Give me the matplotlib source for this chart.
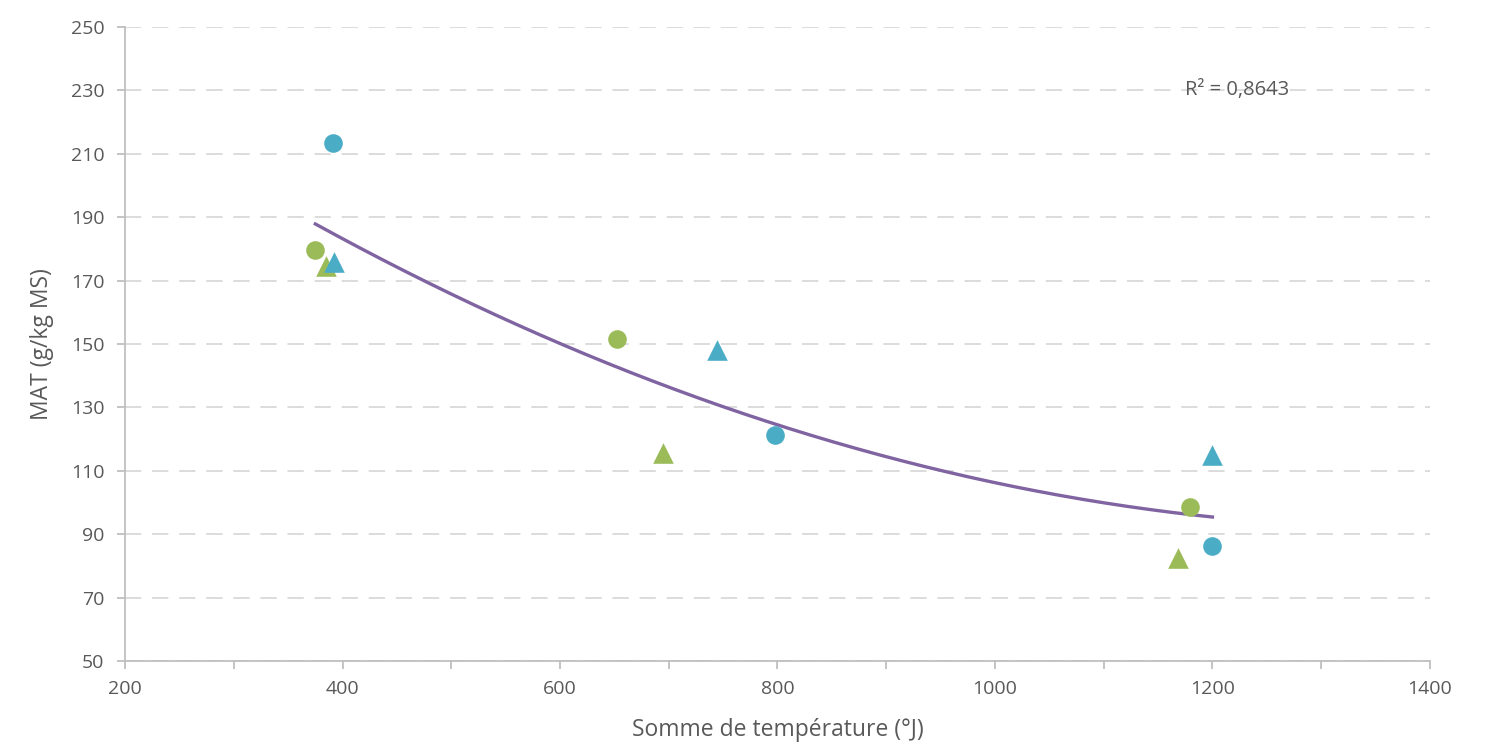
import numpy as np
import matplotlib.pyplot as plt
from matplotlib.ticker import MultipleLocator

plt.rcParams['font.family'] = ['Open Sans', 'DejaVu Sans']

# points
bleu_rond_x = [391, 798, 1200]
bleu_rond_y = [213.5, 121.3, 86.3]
vert_rond_x = [375, 652, 1179]
vert_rond_y = [179.7, 151.6, 98.6]
bleu_tri_x = [392, 744, 1200]
bleu_tri_y = [176.0, 148.0, 115.0]
vert_tri_x = [385, 695, 1168]
vert_tri_y = [174.5, 115.6, 82.6]
r2_label = "R² = 0,8643"

bleu = "#4BACC6"
vert = "#9BBB59"
violet = "#8064A2"
gris = "#595959"

fig = plt.figure(figsize=(14.92, 7.46), dpi=100)
ax = fig.add_axes([0.0838, 0.1139, 0.8746, 0.8499])

# courbe de tendance polynomiale (ordre 2) sur tous les points
all_x = np.array(bleu_rond_x + vert_rond_x + bleu_tri_x + vert_tri_x, dtype=float)
all_y = np.array(bleu_rond_y + vert_rond_y + bleu_tri_y + vert_tri_y, dtype=float)
coef = np.polyfit(all_x, all_y, 2)
xs = np.linspace(all_x.min(), all_x.max(), 200)
ax.plot(xs, np.polyval(coef, xs), color=violet, lw=2.4, zorder=2)

ax.scatter(bleu_rond_x, bleu_rond_y, s=180, marker="o", color=bleu, zorder=3, linewidths=0)
ax.scatter(vert_rond_x, vert_rond_y, s=180, marker="o", color=vert, zorder=3, linewidths=0)
ax.scatter(vert_tri_x, vert_tri_y, s=220, marker="^", color=vert, zorder=3, linewidths=0)
ax.scatter(bleu_tri_x, bleu_tri_y, s=220, marker="^", color=bleu, zorder=3, linewidths=0)

ax.text(1223, 230, r2_label, ha="center", va="center", fontsize=14.5, color=gris)

ax.set_xlim(200, 1400)
ax.set_ylim(50, 250)
ax.xaxis.set_major_locator(MultipleLocator(200))
ax.xaxis.set_minor_locator(MultipleLocator(100))
ax.set_yticks(np.arange(50, 251, 20))
ax.grid(axis="y", color="#D9D9D9", lw=1.3, ls=(0, (9, 6)))
ax.set_axisbelow(True)

for s in ["top", "right"]:
    ax.spines[s].set_visible(False)
for s in ["left", "bottom"]:
    ax.spines[s].set_color("#BFBFBF")
    ax.spines[s].set_linewidth(1.3)
ax.tick_params(which="both", length=6, color="#BFBFBF", width=1.3,
               labelsize=14, labelcolor=gris)
ax.tick_params(axis="x", pad=8)
ax.tick_params(axis="y", pad=9)

ax.set_xlabel("Somme de température (°J)", fontsize=16.5, color=gris, labelpad=14)
ax.set_ylabel("MAT (g/kg MS)", fontsize=16.5, color=gris, labelpad=12)

plt.savefig("out.png", dpi=100)
